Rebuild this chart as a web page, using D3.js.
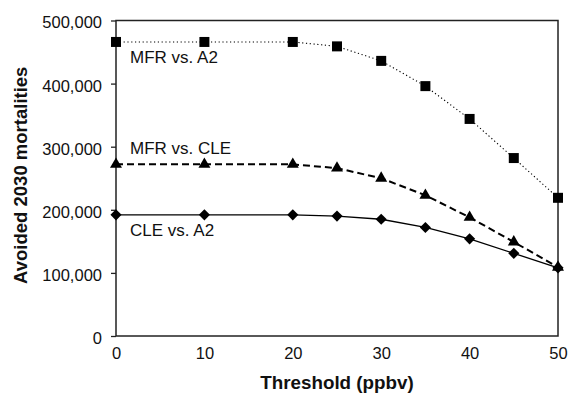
<!DOCTYPE html>
<html>
<head>
<meta charset="utf-8">
<script src="https://cdn.jsdelivr.net/npm/d3@7"></script>
<style>
  body { margin: 0; background: #fff; }
  svg { display: block; font-family: "Liberation Sans", Arial, sans-serif; }
</style>
</head>
<body>
<svg id="chart" width="568" height="393"></svg>
<script>
// thresholds (ppbv)
const thresholds = [0, 10, 20, 25, 30, 35, 40, 45, 50]
// avoided 2030 mortalities
const mfrVsA2 = [466000, 466000, 466000, 459000, 436000, 396000, 344000, 282000, 219000]
const mfrVsCle = [272000, 272000, 272000, 266000, 250000, 223000, 188000, 149000, 109000]
const cleVsA2 = [192000, 192000, 192000, 190000, 185000, 172000, 154000, 131000, 108000]
const xTicks = [0, 10, 20, 30, 40, 50]
const yTicks = [0, 100000, 200000, 300000, 400000, 500000]

const margin = { top: 20.5, right: 10, bottom: 57, left: 116 }
const width = 568
const height = 393

const svg = d3.select('#chart')

const x = d3.scaleLinear()
  .domain([0, 50])
  .range([margin.left, width - margin.right])

const y = d3.scaleLinear()
  .domain([0, 500000])
  .range([height - margin.bottom, margin.top])

const series = [
  { name: 'MFR vs. A2', values: mfrVsA2, symbol: 'square', dash: '1.2,2.6', strokeWidth: 1.1, labelDy: 21.5 },
  { name: 'MFR vs. CLE', values: mfrVsCle, symbol: 'triangle', dash: '7,4', strokeWidth: 2, labelDy: -10 },
  { name: 'CLE vs. A2', values: cleVsA2, symbol: 'diamond', dash: null, strokeWidth: 1.3, labelDy: 21.5 },
]

// frame + axes
const frameColor = '#222'
svg.append('rect')
  .attr('x', x(0))
  .attr('y', y(500000))
  .attr('width', x(50) - x(0))
  .attr('height', y(0) - y(500000))
  .attr('fill', 'none')
  .attr('stroke', frameColor)
  .attr('stroke-width', 1.5)

const yAxis = svg.append('g')
  .attr('transform', `translate(${x(0)},0)`)
  .call(d3.axisLeft(y).tickValues(yTicks).tickFormat(d3.format(',')).tickSize(5).tickPadding(9))
yAxis.select('.domain').remove()
yAxis.selectAll('line').attr('stroke', frameColor).attr('stroke-width', 1.3)
yAxis.selectAll('text')
  .attr('fill', '#111')
  .attr('font-size', 16.5)
  .attr('dy', '0.45em')

const xAxis = svg.append('g')
  .attr('transform', `translate(0,${y(0)})`)
  .call(d3.axisBottom(x).tickValues(xTicks).tickSize(0).tickPadding(10))
xAxis.select('.domain').remove()
xAxis.selectAll('text')
  .attr('fill', '#111')
  .attr('font-size', 16.5)
  .attr('dy', '0.8em')

// axis titles
svg.append('text')
  .attr('x', (x(0) + x(50)) / 2)
  .attr('y', 389)
  .attr('text-anchor', 'middle')
  .attr('font-size', 18.8)
  .attr('font-weight', 'bold')
  .attr('fill', '#111')
  .text('Threshold (ppbv)')

svg.append('text')
  .attr('transform', `translate(27,${(y(0) + y(500000)) / 2 - 3}) rotate(-90)`)
  .attr('text-anchor', 'middle')
  .attr('font-size', 18.5)
  .attr('font-weight', 'bold')
  .attr('fill', '#111')
  .text('Avoided 2030 mortalities')

// lines
const line = d3.line()
  .x((d, i) => x(thresholds[i]))
  .y(d => y(d))

const symbols = {
  square: { type: d3.symbolSquare, size: 100, rotate: 0 },
  triangle: { type: d3.symbolTriangle, size: 62, rotate: 0 },
  diamond: { type: d3.symbolSquare, size: 62, rotate: 45 },
}

series.forEach(s => {
  svg.append('path')
    .datum(s.values)
    .attr('d', line)
    .attr('fill', 'none')
    .attr('stroke', '#000')
    .attr('stroke-width', s.strokeWidth)
    .attr('stroke-dasharray', s.dash)
})

series.forEach(s => {
  const sym = symbols[s.symbol]
  svg.append('g')
    .selectAll('path')
    .data(s.values)
    .enter().append('path')
    .attr('d', d3.symbol().type(sym.type).size(sym.size))
    .attr('transform', (d, i) => `translate(${x(thresholds[i])},${y(d)}) rotate(${sym.rotate})`)
    .attr('fill', '#000')

  svg.append('text')
    .attr('x', x(0) + 14)
    .attr('y', y(s.values[0]) + s.labelDy)
    .attr('font-size', 17)
    .attr('fill', '#111')
    .text(s.name)
})
</script>
</body>
</html>
